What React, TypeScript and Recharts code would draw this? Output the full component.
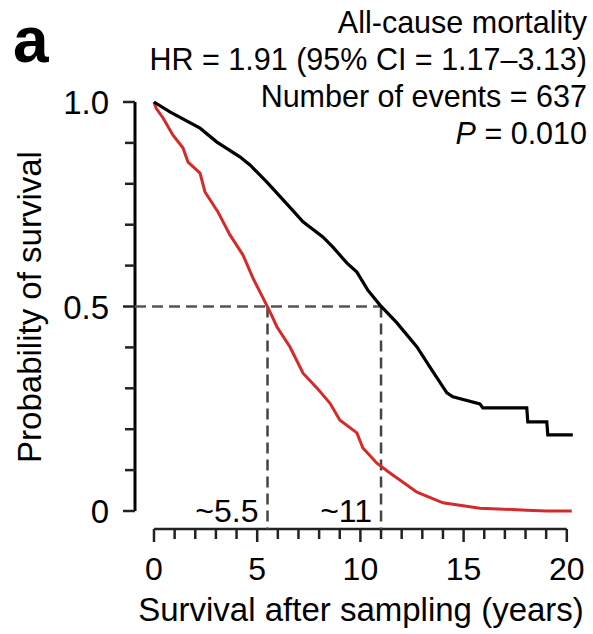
import React from "react";
import { LineChart, Line, XAxis, YAxis, ReferenceLine } from "recharts";

// Kaplan-Meier curves as [years, survival probability]
const lowRisk: [number, number][] = [
    [0, 1.0], [0.77, 0.976], [2.23, 0.936], [3.05, 0.902], [4.16, 0.866],
    [4.65, 0.846], [5.47, 0.804], [6.49, 0.748], [7.22, 0.707], [8.18, 0.67],
    [8.67, 0.645], [9.35, 0.606], [9.83, 0.584], [10.36, 0.54], [10.94, 0.504],
    [11.77, 0.46], [12.74, 0.401], [13.37, 0.352], [14.19, 0.289], [14.48, 0.279],
    [15.79, 0.262], [15.93, 0.252], [18.06, 0.252], [18.11, 0.218], [19.03, 0.218],
    [19.08, 0.186], [20.29, 0.186],
];

const highRisk: [number, number][] = [
    [0, 1.0], [0.1, 0.985], [0.44, 0.961], [0.92, 0.919], [1.4, 0.888],
    [1.65, 0.853], [2.23, 0.826], [2.47, 0.78], [3.1, 0.731], [3.68, 0.675],
    [4.31, 0.626], [4.79, 0.57], [5.28, 0.521], [5.62, 0.487], [5.96, 0.45],
    [6.59, 0.401], [7.22, 0.337], [7.89, 0.301], [8.52, 0.264], [9.01, 0.222],
    [9.83, 0.191], [10.12, 0.154], [10.8, 0.117], [11.43, 0.093], [11.91, 0.076],
    [12.74, 0.046], [14.0, 0.02], [15.79, 0.007], [18.06, 0.002], [19.03, 0.0],
    [20.24, 0.0],
];

const xTicks = [0, 1, 2, 3, 4, 5, 6, 7, 8, 9, 10, 11, 12, 13, 14, 15, 16, 17, 18, 19, 20];
const xLabels: Record<string, string> = { 0: "0", 5: "5", 10: "10", 15: "15", 20: "20" };
const yTicks = [0, 0.1, 0.2, 0.3, 0.4, 0.5, 0.6, 0.7, 0.8, 0.9, 1];
const yLabels: Record<string, string> = { 0: "0", 0.5: "0.5", 1: "1.0" };

const medians = [
    { t: 5.5, label: "~5.5" },
    { t: 11, label: "~11" },
];

const titleLines = [
    "All-cause mortality",
    "HR = 1.91 (95% CI = 1.17\u20133.13)",
    "Number of events = 637",
];
const pValue = "0.010";

// axes sit a little outside the data (offset axes)
const X_MIN = -0.92;
const X_MAX = 20.3;
const Y_MIN = -0.044;

const FONT = "'Liberation Sans', Arial, Helvetica, sans-serif";

const toRows = (pts: [number, number][]) => pts.map(([t, s]) => ({ t, s }));

const XTick = (props: any) => {
    const { x, y, payload } = props;
    const label = xLabels[String(payload.value)];
    return (
        <g>
            <line x1={x} x2={x} y1={y} y2={y + (label ? 13 : 10)} stroke="#222" strokeWidth={2.5} />
            {label && (
                <text x={x} y={y + 51} textAnchor="middle" fontSize={32} fontFamily={FONT} fill="#000">
                    {label}
                </text>
            )}
        </g>
    );
};

const YTick = (props: any) => {
    const { x, y, payload } = props;
    const label = yLabels[String(payload.value)];
    return (
        <g>
            <line x1={x - (label ? 12 : 10)} x2={x} y1={y} y2={y} stroke="#222" strokeWidth={2.5} />
            {label && (
                <text x={x - 26} y={y + 12} textAnchor="end" fontSize={33} fontFamily={FONT} fill="#000">
                    {label}
                </text>
            )}
        </g>
    );
};

const MedianLabel = (props: any) => {
    const { viewBox, text } = props;
    if (!viewBox) return null;
    return (
        <text
            x={viewBox.x - 9}
            y={viewBox.y + viewBox.height - 7}
            textAnchor="end"
            fontSize={32}
            fontFamily={FONT}
            fill="#000"
        >
            {text}
        </text>
    );
};

const App: React.FC = () => {
    return (
        <div style={{ position: "absolute", left: 0, top: 0, width: 593, height: 634, background: "#fff" }}>
            <LineChart width={593} height={634} margin={{ top: 102, right: 20, left: 75, bottom: 75 }}>
                <XAxis
                    dataKey="t"
                    type="number"
                    domain={[X_MIN, X_MAX]}
                    ticks={xTicks}
                    interval={0}
                    axisLine={false}
                    tickLine={false}
                    tickSize={0}
                    tickMargin={0}
                    height={30}
                    tick={<XTick />}
                />
                <YAxis
                    type="number"
                    domain={[Y_MIN, 1]}
                    ticks={yTicks}
                    interval={0}
                    axisLine={false}
                    tickLine={false}
                    tickSize={0}
                    tickMargin={0}
                    width={60}
                    tick={<YTick />}
                />
                <ReferenceLine
                    segment={[{ x: 0, y: Y_MIN }, { x: 20, y: Y_MIN }]}
                    stroke="#222"
                    strokeWidth={2.5}
                    ifOverflow="visible"
                />
                <ReferenceLine
                    segment={[{ x: X_MIN, y: 0 }, { x: X_MIN, y: 1 }]}
                    stroke="#000"
                    strokeWidth={3}
                    ifOverflow="visible"
                />
                <ReferenceLine
                    segment={[{ x: X_MIN, y: 0.5 }, { x: medians[1].t, y: 0.5 }]}
                    stroke="#555"
                    strokeWidth={2.5}
                    strokeDasharray="11 6"
                    ifOverflow="visible"
                />
                {medians.map((m) => (
                    <ReferenceLine
                        key={m.label}
                        segment={[{ x: m.t, y: 0.5 }, { x: m.t, y: Y_MIN }]}
                        stroke="#444"
                        strokeWidth={2.5}
                        strokeDasharray="11 6"
                        ifOverflow="visible"
                        label={<MedianLabel text={m.label} />}
                    />
                ))}
                <Line
                    data={toRows(highRisk)}
                    dataKey="s"
                    type="linear"
                    stroke="#d42a2a"
                    strokeWidth={3}
                    dot={false}
                    isAnimationActive={false}
                />
                <Line
                    data={toRows(lowRisk)}
                    dataKey="s"
                    type="linear"
                    stroke="#000"
                    strokeWidth={3.2}
                    dot={false}
                    isAnimationActive={false}
                />
            </LineChart>
            <svg
                width={593}
                height={634}
                style={{ position: "absolute", left: 0, top: 0, pointerEvents: "none" }}
                fontFamily={FONT}
            >
                <text x={13} y={62} fontSize={64} fontWeight="bold" fill="#000">
                    a
                </text>
                {titleLines.map((line, i) => (
                    <text key={line} x={587} y={33 + i * 37} textAnchor="end" fontSize={30.5} fill="#000">
                        {line}
                    </text>
                ))}
                <text x={587} y={144} textAnchor="end" fontSize={30.5} fill="#000">
                    <tspan fontStyle="italic">P</tspan> = {pValue}
                </text>
                <text x={361} y={621} textAnchor="middle" fontSize={33} fill="#000">
                    Survival after sampling (years)
                </text>
                <text
                    x={0}
                    y={0}
                    transform="translate(41 307) rotate(-90)"
                    textAnchor="middle"
                    fontSize={33}
                    fill="#000"
                >
                    Probability of survival
                </text>
            </svg>
        </div>
    );
};

export default App;
